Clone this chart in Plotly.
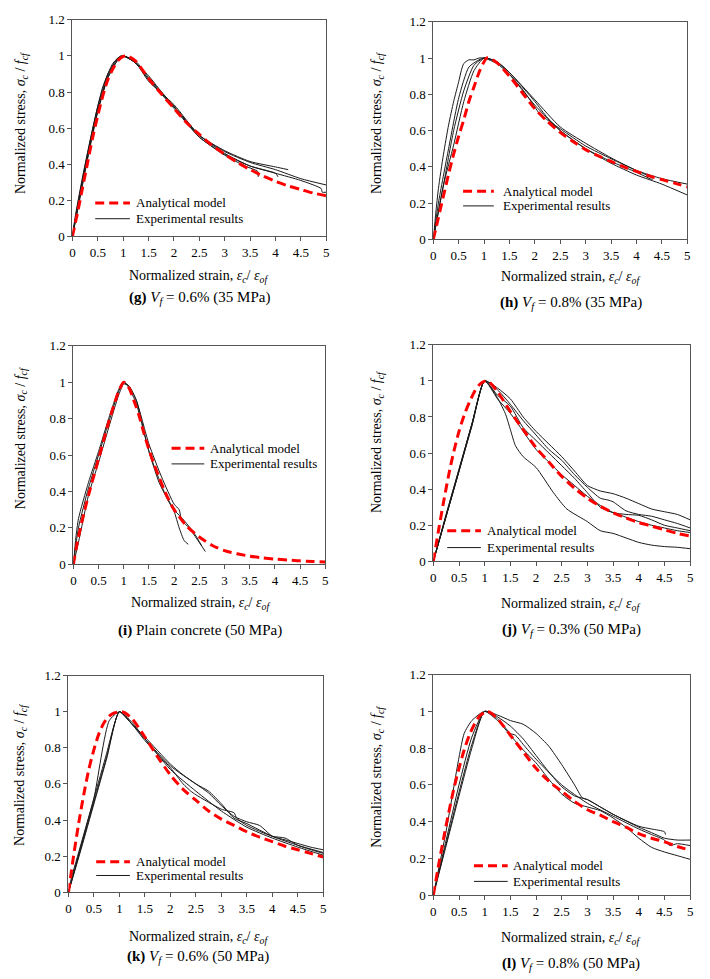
import plotly.graph_objects as go

# ---------------- DATA ----------------
# (g) Vf = 0.6% (35 MPa)
g_model_strain = [0, 0.1, 0.2, 0.3, 0.4, 0.5, 0.6, 0.7, 0.8, 0.9, 1.0, 1.05, 1.1, 1.25, 1.5, 1.75, 2, 2.25, 2.5, 2.75, 3, 3.25, 3.5, 3.75, 4, 4.25, 4.5, 4.75, 5]
g_model_stress = [0, 0.13, 0.27, 0.41, 0.55, 0.67, 0.78, 0.87, 0.93, 0.975, 0.997, 1.0, 0.998, 0.97, 0.875, 0.79, 0.71, 0.63, 0.565, 0.505, 0.455, 0.41, 0.37, 0.335, 0.305, 0.28, 0.26, 0.24, 0.225]
g_test1_strain = [0, 0.05, 0.2, 0.4, 0.6, 0.8, 0.95, 1.0, 1.2, 1.5, 1.7, 2, 2.5, 3, 3.5, 4, 4.25]
g_test1_stress = [0, 0.1, 0.33, 0.6, 0.83, 0.96, 1.0, 1.0, 0.97, 0.89, 0.82, 0.72, 0.56, 0.475, 0.415, 0.385, 0.37]
g_test2_strain = [0, 0.1, 0.3, 0.5, 0.7, 0.9, 1.0, 1.25, 1.5, 2, 2.5, 3, 3.5, 4, 4.5, 5]
g_test2_stress = [0, 0.17, 0.46, 0.72, 0.9, 0.99, 1.0, 0.96, 0.86, 0.73, 0.56, 0.47, 0.41, 0.37, 0.32, 0.285]
g_test3_strain = [0, 0.1, 0.3, 0.5, 0.7, 0.9, 1.0, 1.25, 1.5, 2, 2.5, 3, 3.5, 4, 4.5, 4.9, 4.92, 5]
g_test3_stress = [0, 0.15, 0.44, 0.7, 0.88, 0.98, 1.0, 0.96, 0.87, 0.72, 0.55, 0.455, 0.39, 0.35, 0.31, 0.265, 0.245, 0.245]
g_test4_strain = [0, 0.1, 0.3, 0.5, 0.7, 0.85, 1.0, 1.25, 1.5, 2, 2.5, 3, 3.4, 3.65, 3.66]
g_test4_stress = [0, 0.16, 0.45, 0.7, 0.89, 0.97, 1.0, 0.96, 0.87, 0.71, 0.55, 0.45, 0.39, 0.36, 0.33]
g_test5_strain = [0, 0.1, 0.3, 0.5, 0.7, 0.9, 1.0, 1.25, 1.5, 2, 2.5, 3, 3.5, 4, 4.05]
g_test5_stress = [0, 0.14, 0.43, 0.69, 0.88, 0.98, 1.0, 0.97, 0.88, 0.72, 0.56, 0.46, 0.39, 0.35, 0.33]

# (h) Vf = 0.8% (35 MPa)
h_model_strain = [0, 0.1, 0.2, 0.3, 0.4, 0.5, 0.6, 0.7, 0.8, 0.9, 1.0, 1.05, 1.1, 1.25, 1.5, 1.75, 2, 2.25, 2.5, 2.75, 3, 3.25, 3.5, 3.75, 4, 4.25, 4.5, 4.75, 5]
h_model_stress = [0, 0.12, 0.24, 0.36, 0.47, 0.57, 0.66, 0.76, 0.84, 0.92, 0.98, 1.0, 1.0, 0.975, 0.9, 0.81, 0.72, 0.65, 0.59, 0.54, 0.495, 0.46, 0.43, 0.4, 0.375, 0.35, 0.33, 0.31, 0.29]
h_test1_strain = [0, 0.05, 0.1, 0.2, 0.3, 0.4, 0.5, 0.55, 0.6, 0.7, 0.8, 0.9, 1.0, 1.25, 1.5, 1.75, 2, 2.1, 2.5, 3, 3.5, 4, 4.3, 4.32]
h_test1_stress = [0, 0.15, 0.28, 0.47, 0.63, 0.76, 0.87, 0.93, 0.97, 0.99, 0.99, 1.0, 1.0, 0.97, 0.91, 0.83, 0.73, 0.69, 0.61, 0.515, 0.445, 0.38, 0.34, 0.33]
h_test2_strain = [0, 0.1, 0.3, 0.5, 0.7, 0.9, 1.0, 1.25, 1.5, 2, 2.25, 2.5, 3, 3.5, 4, 4.5, 5]
h_test2_stress = [0, 0.2, 0.5, 0.78, 0.95, 0.99, 1.0, 0.98, 0.92, 0.76, 0.67, 0.6, 0.5, 0.42, 0.355, 0.305, 0.245]
h_test3_strain = [0, 0.2, 0.4, 0.6, 0.8, 1.0, 1.25, 1.5, 2, 2.5, 3, 3.5, 4, 4.5, 5]
h_test3_stress = [0, 0.3, 0.6, 0.82, 0.96, 1.0, 0.98, 0.92, 0.77, 0.62, 0.53, 0.45, 0.38, 0.335, 0.305]
h_test4_strain = [0, 0.2, 0.4, 0.6, 0.8, 1.0, 1.25, 1.5, 2, 2.5, 3, 3.5, 4, 4.3]
h_test4_stress = [0, 0.3, 0.52, 0.76, 0.93, 1.0, 0.98, 0.91, 0.74, 0.6, 0.5, 0.43, 0.37, 0.33]

# (i) Plain concrete (50 MPa)
i_model_strain = [0, 0.05, 0.1, 0.2, 0.3, 0.4, 0.5, 0.6, 0.7, 0.8, 0.9, 1.0, 1.1, 1.2, 1.3, 1.4, 1.5, 1.6, 1.7, 1.8, 1.9, 2, 2.25, 2.5, 2.75, 3, 3.25, 3.5, 3.75, 4, 4.25, 4.5, 4.75, 5]
i_model_stress = [0, 0.08, 0.15, 0.27, 0.38, 0.48, 0.58, 0.68, 0.78, 0.87, 0.95, 1.0, 0.97, 0.9, 0.82, 0.72, 0.63, 0.55, 0.48, 0.41, 0.35, 0.3, 0.21, 0.15, 0.105, 0.075, 0.058, 0.045, 0.036, 0.029, 0.024, 0.019, 0.016, 0.013]
i_test1_strain = [0, 0.05, 0.1, 0.3, 0.5, 0.7, 0.9, 1.0, 1.1, 1.25, 1.5, 1.7, 1.9, 2.0, 2.1, 2.2, 2.28]
i_test1_stress = [0, 0.15, 0.25, 0.45, 0.62, 0.8, 0.96, 1.0, 0.97, 0.88, 0.62, 0.45, 0.34, 0.29, 0.2, 0.13, 0.11]
i_test2_strain = [0, 0.1, 0.3, 0.5, 0.7, 0.9, 1.0, 1.1, 1.25, 1.5, 1.75, 2, 2.1, 2.15, 2.3, 2.45, 2.62]
i_test2_stress = [0, 0.2, 0.42, 0.6, 0.78, 0.95, 1.0, 0.98, 0.9, 0.66, 0.48, 0.33, 0.3, 0.24, 0.2, 0.14, 0.07]
i_test3_strain = [0, 0.1, 0.3, 0.5, 0.7, 0.9, 1.0, 1.1, 1.25, 1.5, 1.8, 2, 2.2, 2.4, 2.55]
i_test3_stress = [0, 0.12, 0.38, 0.56, 0.75, 0.93, 0.99, 0.98, 0.9, 0.62, 0.4, 0.3, 0.24, 0.17, 0.1]

# (j) Vf = 0.3% (50 MPa)
j_model_strain = [0, 0.1, 0.2, 0.3, 0.4, 0.5, 0.6, 0.7, 0.8, 0.9, 1.0, 1.05, 1.1, 1.25, 1.5, 1.75, 2, 2.25, 2.5, 2.75, 3, 3.25, 3.5, 3.75, 4, 4.25, 4.5, 4.75, 5]
j_model_stress = [0, 0.17, 0.33, 0.48, 0.61, 0.72, 0.81, 0.88, 0.94, 0.98, 0.998, 1.0, 0.99, 0.94, 0.83, 0.73, 0.63, 0.55, 0.47, 0.405, 0.35, 0.305, 0.27, 0.24, 0.215, 0.195, 0.175, 0.155, 0.14]
j_test1_strain = [0, 0.25, 0.5, 0.75, 1.0, 1.2, 1.4, 1.5, 1.6, 1.75, 2, 2.34, 2.6, 3, 3.25, 3.5, 3.75, 4, 4.25, 4.5, 4.75, 5]
j_test1_stress = [0, 0.26, 0.51, 0.76, 1.0, 0.93, 0.82, 0.73, 0.64, 0.58, 0.52, 0.38, 0.29, 0.22, 0.17, 0.155, 0.13, 0.105, 0.09, 0.082, 0.078, 0.07]
j_test2_strain = [0, 0.25, 0.5, 0.75, 1.0, 1.25, 1.5, 1.75, 2, 2.25, 2.5, 2.75, 3, 3.25, 3.5, 3.75, 4, 4.25, 4.5, 4.75, 5]
j_test2_stress = [0, 0.25, 0.5, 0.75, 1.0, 0.96, 0.9, 0.8, 0.72, 0.65, 0.58, 0.5, 0.42, 0.39, 0.375, 0.35, 0.32, 0.29, 0.275, 0.26, 0.23]
j_test3_strain = [0, 0.25, 0.5, 0.75, 1.0, 1.25, 1.5, 1.75, 2, 2.25, 2.5, 2.75, 3, 3.25, 3.4, 3.5, 3.75, 4, 4.25, 4.5, 4.75, 5]
j_test3_stress = [0, 0.26, 0.51, 0.76, 1.0, 0.95, 0.87, 0.78, 0.7, 0.62, 0.56, 0.48, 0.41, 0.35, 0.34, 0.33, 0.28, 0.26, 0.25, 0.23, 0.21, 0.185]
j_test4_strain = [0, 0.25, 0.5, 0.75, 1.0, 1.25, 1.5, 1.75, 2, 2.25, 2.5, 2.75, 3, 3.25, 3.5, 3.75, 4, 4.25, 4.5, 4.75, 5]
j_test4_stress = [0, 0.25, 0.5, 0.75, 1.0, 0.92, 0.86, 0.74, 0.67, 0.6, 0.53, 0.46, 0.38, 0.3, 0.27, 0.26, 0.255, 0.23, 0.2, 0.185, 0.17]
j_test5_strain = [0, 0.25, 0.5, 0.75, 1.0, 1.25, 1.5, 1.75, 2, 2.25, 2.5, 2.75, 3, 3.25, 3.5, 3.75, 4, 4.25, 4.5, 4.75, 5]
j_test5_stress = [0, 0.25, 0.5, 0.76, 1.0, 0.9, 0.82, 0.72, 0.62, 0.55, 0.48, 0.42, 0.36, 0.31, 0.27, 0.245, 0.22, 0.2, 0.185, 0.17, 0.16]

# (k) Vf = 0.6% (50 MPa)
k_model_strain = [0, 0.05, 0.1, 0.2, 0.3, 0.4, 0.5, 0.6, 0.7, 0.8, 0.9, 1.0, 1.05, 1.1, 1.25, 1.5, 1.75, 2, 2.25, 2.5, 2.75, 3, 3.25, 3.5, 3.75, 4, 4.25, 4.5, 4.75, 5]
k_model_stress = [0, 0.1, 0.2, 0.38, 0.54, 0.68, 0.79, 0.88, 0.94, 0.975, 0.993, 1.0, 1.0, 0.995, 0.96, 0.86, 0.75, 0.65, 0.57, 0.51, 0.45, 0.405, 0.37, 0.335, 0.305, 0.28, 0.255, 0.235, 0.215, 0.195]
k_test1_strain = [0, 0.05, 0.25, 0.5, 0.75, 0.9, 1.0, 1.25, 1.5, 2, 2.25, 2.5, 2.75, 3, 3.25, 3.5, 3.75, 4, 4.25, 4.5, 4.75, 5]
k_test1_stress = [0, 0.07, 0.27, 0.52, 0.77, 0.93, 1.0, 0.93, 0.86, 0.71, 0.65, 0.6, 0.55, 0.48, 0.42, 0.39, 0.37, 0.31, 0.29, 0.27, 0.25, 0.235]
k_test2_strain = [0, 0.25, 0.5, 0.8, 1.0, 1.25, 1.5, 2, 2.5, 2.75, 3, 3.25, 3.5, 4, 4.5, 5]
k_test2_stress = [0, 0.26, 0.52, 0.95, 1.0, 0.93, 0.85, 0.7, 0.6, 0.56, 0.49, 0.41, 0.38, 0.31, 0.26, 0.22]
k_test3_strain = [0, 0.25, 0.5, 0.75, 1.0, 1.25, 1.5, 2, 2.25, 2.4, 2.5, 3, 3.25, 3.3, 3.5, 4, 4.25, 4.5, 5]
k_test3_stress = [0, 0.25, 0.5, 0.75, 1.0, 0.93, 0.84, 0.69, 0.6, 0.56, 0.54, 0.46, 0.44, 0.41, 0.37, 0.31, 0.3, 0.26, 0.215]
k_test4_strain = [0, 0.25, 0.5, 0.75, 1.0, 1.25, 1.5, 2, 2.5, 3, 3.5, 4, 4.5, 5]
k_test4_stress = [0, 0.24, 0.49, 0.74, 1.0, 0.94, 0.85, 0.68, 0.56, 0.45, 0.36, 0.3, 0.25, 0.205]

# (l) Vf = 0.8% (50 MPa)
l_model_strain = [0, 0.1, 0.2, 0.3, 0.4, 0.5, 0.6, 0.7, 0.8, 0.9, 1.0, 1.05, 1.1, 1.25, 1.5, 1.75, 2, 2.25, 2.5, 2.75, 3, 3.25, 3.5, 3.75, 4, 4.25, 4.5, 4.75, 5]
l_model_stress = [0, 0.16, 0.31, 0.45, 0.58, 0.69, 0.79, 0.87, 0.93, 0.975, 0.995, 1.0, 0.995, 0.96, 0.87, 0.78, 0.69, 0.62, 0.565, 0.51, 0.465, 0.435, 0.4, 0.37, 0.335, 0.31, 0.29, 0.265, 0.245]
l_test1_strain = [0, 0.25, 0.5, 0.75, 1.0, 1.25, 1.5, 1.75, 2, 2.25, 2.5, 2.75, 2.9, 3, 3.25, 3.5, 4, 4.25, 4.5, 4.52]
l_test1_stress = [0, 0.3, 0.6, 0.86, 1.0, 0.98, 0.95, 0.93, 0.88, 0.81, 0.71, 0.6, 0.53, 0.52, 0.48, 0.44, 0.375, 0.36, 0.345, 0.33]
l_test2_strain = [0, 0.25, 0.5, 0.6, 0.75, 1.0, 1.25, 1.5, 1.75, 2, 2.25, 2.5, 2.75, 3, 3.25, 3.5, 3.75, 4, 4.25, 4.5, 4.75, 5]
l_test2_stress = [0, 0.35, 0.75, 0.88, 0.95, 1.0, 0.95, 0.87, 0.79, 0.72, 0.63, 0.55, 0.5, 0.48, 0.46, 0.42, 0.37, 0.31, 0.26, 0.235, 0.215, 0.195]
l_test3_strain = [0, 0.25, 0.5, 0.75, 1.0, 1.25, 1.5, 1.75, 2, 2.25, 2.5, 2.75, 3, 3.25, 3.5, 4, 4.25, 4.5, 4.75, 5]
l_test3_stress = [0, 0.28, 0.56, 0.82, 1.0, 0.97, 0.92, 0.85, 0.76, 0.67, 0.59, 0.54, 0.52, 0.48, 0.44, 0.37, 0.34, 0.31, 0.3, 0.3]
l_test4_strain = [0, 0.25, 0.5, 0.75, 1.0, 1.25, 1.5, 1.6, 1.75, 2, 2.5, 3, 3.5, 4, 4.25, 4.5, 4.6, 4.75, 5]
l_test4_stress = [0, 0.27, 0.54, 0.8, 1.0, 0.96, 0.88, 0.87, 0.82, 0.74, 0.6, 0.5, 0.43, 0.36, 0.33, 0.3, 0.27, 0.28, 0.27]

x_tick_vals = [0, 0.5, 1, 1.5, 2, 2.5, 3, 3.5, 4, 4.5, 5]
x_tick_text = ["0", "0.5", "1", "1.5", "2", "2.5", "3", "3.5", "4", "4.5", "5"]
y_tick_vals = [0, 0.2, 0.4, 0.6, 0.8, 1.0, 1.2]
y_tick_text = ["0", "0.2", "0.4", "0.6", "0.8", "1", "1.2"]

captions = [
    "<b>(g)</b> <i>V<sub>f</sub></i> = 0.6% (35 MPa)",
    "<b>(h)</b> <i>V<sub>f</sub></i> = 0.8% (35 MPa)",
    "<b>(i)</b> Plain concrete (50 MPa)",
    "<b>(j)</b> <i>V<sub>f</sub></i> = 0.3% (50 MPa)",
    "<b>(k)</b> <i>V<sub>f</sub></i> = 0.6% (50 MPa)",
    "<b>(l)</b> <i>V<sub>f</sub></i> = 0.8% (50 MPa)",
]
legend_model_label = "Analytical model"
legend_test_label = "Experimental results"
x_title = "Normalized strain, <i>ε<sub>c</sub></i>/ <i>ε<sub>of</sub></i>"
y_title = "Normalized stress, <i>σ<sub>c</sub></i> / <i>f<sub>cf</sub></i>"

panels = [
    (g_model_strain, g_model_stress, [(g_test1_strain, g_test1_stress), (g_test2_strain, g_test2_stress), (g_test3_strain, g_test3_stress), (g_test4_strain, g_test4_stress), (g_test5_strain, g_test5_stress)]),
    (h_model_strain, h_model_stress, [(h_test1_strain, h_test1_stress), (h_test2_strain, h_test2_stress), (h_test3_strain, h_test3_stress), (h_test4_strain, h_test4_stress)]),
    (i_model_strain, i_model_stress, [(i_test1_strain, i_test1_stress), (i_test2_strain, i_test2_stress), (i_test3_strain, i_test3_stress)]),
    (j_model_strain, j_model_stress, [(j_test1_strain, j_test1_stress), (j_test2_strain, j_test2_stress), (j_test3_strain, j_test3_stress), (j_test4_strain, j_test4_stress), (j_test5_strain, j_test5_stress)]),
    (k_model_strain, k_model_stress, [(k_test1_strain, k_test1_stress), (k_test2_strain, k_test2_stress), (k_test3_strain, k_test3_stress), (k_test4_strain, k_test4_stress)]),
    (l_model_strain, l_model_stress, [(l_test1_strain, l_test1_stress), (l_test2_strain, l_test2_stress), (l_test3_strain, l_test3_stress), (l_test4_strain, l_test4_stress)]),
]

# ---------------- LAYOUT (pixel geometry of the page) ----------------
W, H = 710, 979
FONT = "Liberation Serif, Times New Roman, serif"

# plot areas in pixels: (left, right, top, bottom)
plot_px = [
    (70, 326, 13, 233),
    (434, 690, 15, 236),
    (71, 325, 344, 566),
    (434, 693, 343, 563),
    (66, 323, 679, 899),
    (434, 693, 678, 902),
]
ytitle_px = [(18, 118), (377, 118), (18, 438), (377, 442), (17, 780), (377, 782)]
xtitle_px = [(197, 274), (572, 275), (199, 606), (572, 607), (197, 945), (572, 946)]
caption_px = [(198, 296), (573, 301), (199, 633), (573, 633), (197, 965), (573, 972)]
# legend: (sample x0, sample x1, text x, row1 y, row2 y)
legend_px = [
    (93, 128, 132, 199, 215),
    (464, 495, 502, 187, 202),
    (170, 203, 207, 448, 464),
    (448, 482, 486, 532, 549),
    (94, 128, 132, 868, 882),
    (475, 509, 512, 872, 888),
]


def fx(px):
    return px / W


def fy(py):
    return 1 - py / H


fig = go.Figure()
annotations = []
shapes = []

for n, (ms, mv, tests) in enumerate(panels):
    ax = "" if n == 0 else str(n + 1)
    xref, yref = "x" + ax, "y" + ax
    for ts, tv in tests:
        fig.add_trace(go.Scatter(x=ts, y=tv, mode="lines", xaxis=xref, yaxis=yref,
                                 line=dict(color="#1a1a1a", width=1, shape="spline", smoothing=0.6),
                                 showlegend=False, hoverinfo="skip"))
    fig.add_trace(go.Scatter(x=ms, y=mv, mode="lines", xaxis=xref, yaxis=yref,
                             line=dict(color="#ff0000", width=3, dash="9px,5px", shape="spline", smoothing=0.8),
                             showlegend=False, hoverinfo="skip"))

    l, r, t, b = plot_px[n]
    axis_common = dict(showgrid=False, zeroline=False, showline=True, mirror=True,
                       linecolor="#555555", linewidth=1, ticks="outside", ticklen=4,
                       tickcolor="#555555", tickfont=dict(family=FONT, size=13, color="black"))
    fig.layout["xaxis" + ax] = dict(domain=[fx(l), fx(r)], range=[0, 5], anchor=yref,
                                    tickvals=x_tick_vals, ticktext=x_tick_text, **axis_common)
    fig.layout["yaxis" + ax] = dict(domain=[fy(b), fy(t)], range=[0, 1.2], anchor=xref,
                                    tickvals=y_tick_vals, ticktext=y_tick_text, **axis_common)

    yx, yy = ytitle_px[n]
    annotations.append(dict(text=y_title, x=fx(yx), y=fy(yy), xref="paper", yref="paper",
                            textangle=-90, showarrow=False, xanchor="center", yanchor="middle",
                            font=dict(family=FONT, size=14, color="black")))
    xx, xy = xtitle_px[n]
    annotations.append(dict(text=x_title, x=fx(xx), y=fy(xy), xref="paper", yref="paper",
                            showarrow=False, xanchor="center", yanchor="middle",
                            font=dict(family=FONT, size=14, color="black")))
    cx, cy = caption_px[n]
    annotations.append(dict(text=captions[n], x=fx(cx), y=fy(cy), xref="paper", yref="paper",
                            showarrow=False, xanchor="center", yanchor="middle",
                            font=dict(family=FONT, size=15, color="black")))
    s0, s1, tx, r1, r2 = legend_px[n]
    shapes.append(dict(type="line", xref="paper", yref="paper", x0=fx(s0), x1=fx(s1), y0=fy(r1), y1=fy(r1),
                       line=dict(color="#ff0000", width=3, dash="9px,5px")))
    shapes.append(dict(type="line", xref="paper", yref="paper", x0=fx(s0), x1=fx(s1), y0=fy(r2), y1=fy(r2),
                       line=dict(color="#1a1a1a", width=1)))
    annotations.append(dict(text=legend_model_label, x=fx(tx), y=fy(r1), xref="paper", yref="paper",
                            showarrow=False, xanchor="left", yanchor="middle",
                            font=dict(family=FONT, size=13, color="black")))
    annotations.append(dict(text=legend_test_label, x=fx(tx), y=fy(r2), xref="paper", yref="paper",
                            showarrow=False, xanchor="left", yanchor="middle",
                            font=dict(family=FONT, size=13, color="black")))

fig.update_layout(width=W, height=H, margin=dict(l=0, r=0, t=0, b=0),
                  paper_bgcolor="white", plot_bgcolor="white",
                  annotations=annotations, shapes=shapes, showlegend=False,
                  font=dict(family=FONT, color="black"))

fig.write_html("out.html", config={"displayModeBar": False},
               post_script="document.body.style.margin='0';document.body.style.overflow='hidden';")
